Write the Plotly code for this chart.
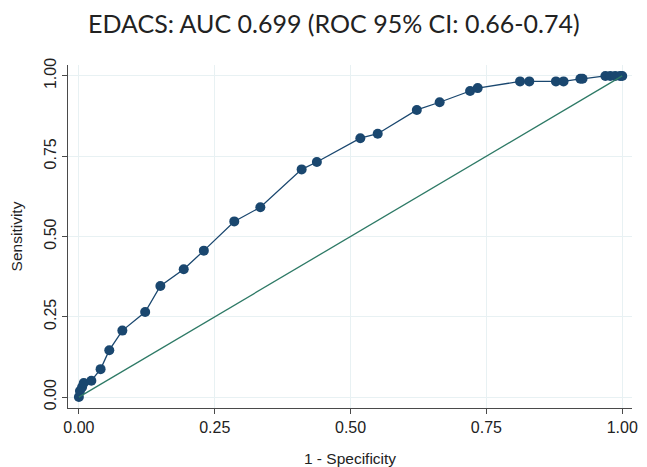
import plotly.graph_objects as go

# ROC curve points (1 - specificity, sensitivity)
fpr = [0.000, 0.002, 0.006, 0.009, 0.023, 0.040, 0.056, 0.080, 0.122, 0.150,
       0.193, 0.230, 0.286, 0.334, 0.410, 0.438, 0.518, 0.550, 0.622, 0.664,
       0.720, 0.734, 0.812, 0.829, 0.878, 0.892, 0.923, 0.927, 0.969, 0.978,
       0.987, 0.996, 1.000]
tpr = [0.000, 0.019, 0.031, 0.044, 0.051, 0.087, 0.146, 0.207, 0.265, 0.346,
       0.398, 0.456, 0.547, 0.591, 0.709, 0.732, 0.806, 0.820, 0.894, 0.918,
       0.953, 0.962, 0.983, 0.983, 0.983, 0.983, 0.991, 0.991, 1.000, 1.000,
       1.000, 1.000, 1.000]
ref_x = [0, 1]
ref_y = [0, 1]
tick_vals = [0, 0.25, 0.5, 0.75, 1.0]
tick_text = ["0.00", "0.25", "0.50", "0.75", "1.00"]
title_text = "EDACS: AUC 0.699 (ROC 95% CI: 0.66-0.74)"

navy = "#1a476f"
green = "#2e7a66"
grid = "#e8f1f3"
axis_col = "#4a4a4a"

fig = go.Figure()
fig.add_trace(go.Scatter(x=fpr, y=tpr, mode="lines+markers",
                         line=dict(color=navy, width=1.3),
                         marker=dict(color=navy, size=10),
                         showlegend=False))
fig.add_trace(go.Scatter(x=ref_x, y=ref_y, mode="lines",
                         line=dict(color=green, width=1.3),
                         showlegend=False))

tick_font = dict(family="Liberation Sans, Arial, sans-serif", size=16, color="#222")
title_font = dict(family="Liberation Sans, Arial, sans-serif", size=15.5, color="#222")
# page body has an 8px default margin; figure size compensates for it
fig.update_layout(
    template="none",
    width=639, height=459,
    margin=dict(l=60, r=15, t=57, b=59),
    paper_bgcolor="white", plot_bgcolor="white",
    title=dict(text=title_text, x=0.510, xanchor="center", y=0.965, yanchor="middle",
               font=dict(family="Lato, Open Sans, sans-serif", size=25, color="#222")),
    xaxis=dict(range=[-0.02, 1.018], tickvals=tick_vals, ticktext=tick_text,
               automargin=False,
               showline=True, linecolor=axis_col, linewidth=1.2,
               ticks="outside", ticklen=5, tickcolor=axis_col, tickwidth=1.2,
               showgrid=True, gridcolor=grid, gridwidth=1.2, zeroline=False,
               tickfont=tick_font,
               title=dict(text="1 - Specificity", font=title_font)),
    yaxis=dict(range=[-0.034, 1.034], tickvals=tick_vals, ticktext=tick_text,
               automargin=False,
               showline=True, linecolor=axis_col, linewidth=1.2,
               ticks="outside", ticklen=5, tickcolor=axis_col, tickwidth=1.2,
               tickangle=-90,
               showgrid=True, gridcolor=grid, gridwidth=1.2, zeroline=False,
               tickfont=tick_font,
               title=dict(text="Sensitivity", font=title_font, standoff=15)),
)
fig.write_html("out.html")
